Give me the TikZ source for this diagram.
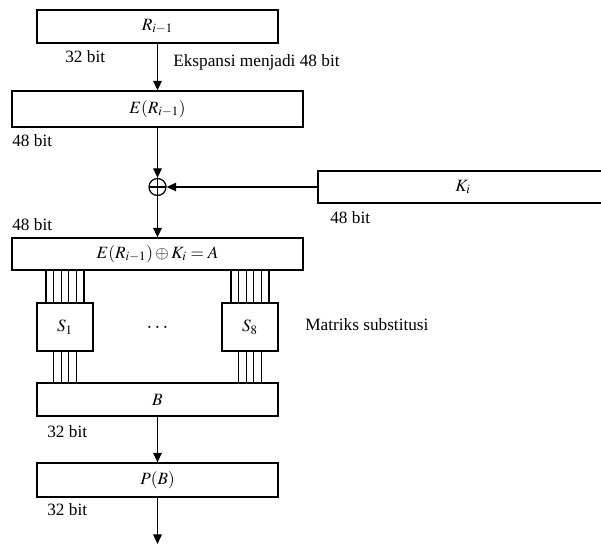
\documentclass[tikz,border=0pt]{standalone}
\usepackage{mathptmx}
\usepackage{fontspec}
\setmainfont{Liberation Serif}
\usetikzlibrary{arrows.meta, calc}
\newcommand{\pxu}{0.022cm}
\newcommand{\lblfont}{\fontsize{10.8}{13}\selectfont}
\tikzset{
  box/.style={rectangle, draw, line width=0.8pt, inner sep=0pt, font=\lblfont},
  bitlabel/.style={anchor=west, inner sep=0pt, font=\lblfont},
  note/.style={anchor=west, inner sep=0pt, font=\lblfont},
  arrow/.style={-{Triangle[length=6pt, width=5.4pt]}, line width=0.8pt},
  wire/.style={line width=0.7pt},
  xorjunc/.style={circle, draw, line width=0.8pt, minimum size=17*\pxu, inner sep=0pt,
    path picture={\draw[line width=0.8pt]
      (path picture bounding box.north) -- (path picture bounding box.south)
      (path picture bounding box.west) -- (path picture bounding box.east);}}
}

\begin{document}
\begin{tikzpicture}[x=\pxu, y=-\pxu]
  \useasboundingbox (0,0) rectangle (601,544);

  % Blocks
  \node[box, minimum width=241*\pxu, minimum height=33*\pxu] (r) at (157.5,26.5) {$R_{i-1}$};
  \node[box, minimum width=291*\pxu, minimum height=36*\pxu] (e) at (157.5,109) {$E(R_{i-1})$};
  \node[xorjunc] (xor) at (157.5,187) {};
  \node[box, minimum width=290*\pxu, minimum height=32*\pxu] (k) at (463,187) {$K_i$};
  \node[box, minimum width=291*\pxu, minimum height=32*\pxu] (a) at (157.5,254) {$E(R_{i-1})\oplus K_i = A$};
  \node[box, minimum width=56*\pxu, minimum height=48*\pxu] (s1) at (65,327) {$S_1$};
  \node[box, minimum width=56*\pxu, minimum height=48*\pxu] (s8) at (250,327) {$S_8$};
  \node[box, minimum width=241*\pxu, minimum height=33*\pxu] (b) at (157.5,399.5) {$B$};
  \node[box, minimum width=241*\pxu, minimum height=34*\pxu] (p) at (157.5,480) {$P(B)$};
  \coordinate (out) at (157.5,544);

  % Labels
  \node[bitlabel] (r bit) at (65,57) {32 bit};
  \node[note] (expand) at (173,62) {Ekspansi menjadi 48 bit};
  \node[bitlabel] (e bit) at (12,141) {48 bit};
  \node[bitlabel] (k bit) at (330,218) {48 bit};
  \node[bitlabel] (a bit) at (12,225) {48 bit};
  \node[font=\fontsize{13}{15}\selectfont] (dots) at (157.5,327) {$\dots$};
  \node[note] (subst) at (305,325) {Matriks substitusi};
  \node[bitlabel] (b bit) at (47,432) {32 bit};
  \node[bitlabel] (p bit) at (47,510) {32 bit};

  % Arrows
  \draw[arrow] (r) -- (e);
  \draw[arrow] (e) -- (xor);
  \draw[arrow] (k) -- (xor);
  \draw[arrow] (xor) -- (a);
  \draw[arrow] (b) -- (p);
  \draw[arrow] (p) -- (out);

  % S-box wires
  \foreach \s in {s1,s8} {
    \foreach \d in {-19,-11.4,-3.8,3.8,11.4,19}
      \draw[wire] ($(\s.north)+(\d,0)$) coordinate (t) -- (t |- a.south);
    \foreach \d in {-11.4,-3.8,3.8,11.4}
      \draw[wire] ($(\s.south)+(\d,0)$) coordinate (t) -- (t |- b.north);
  }
\end{tikzpicture}
\end{document}
